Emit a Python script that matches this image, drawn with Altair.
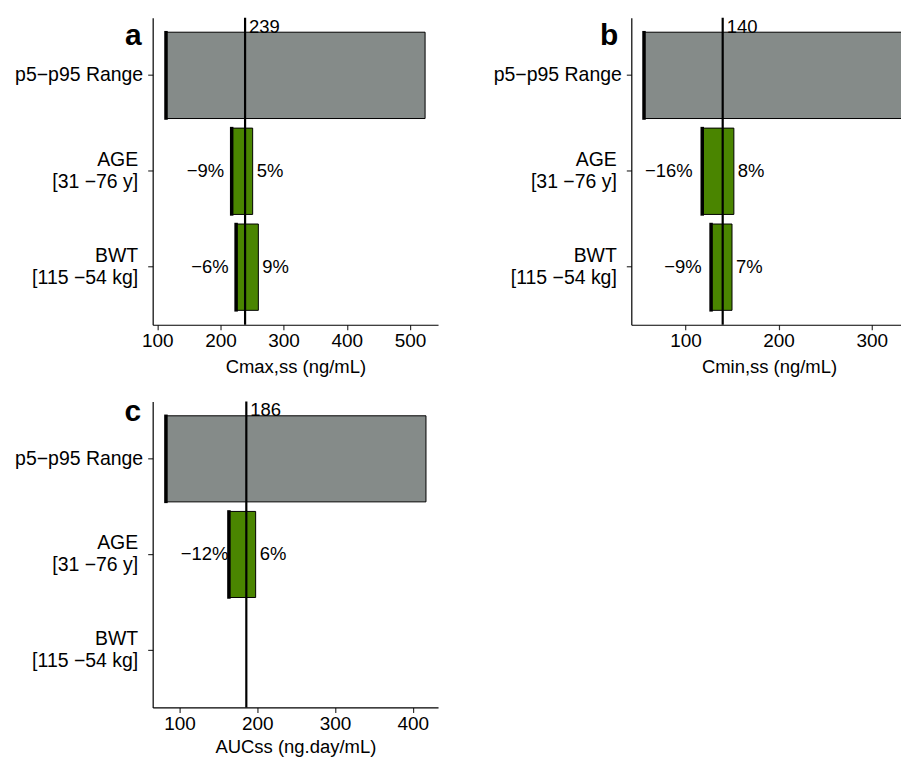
import altair as alt
import pandas as pd

FONT = "Liberation Sans"

categories = ["p5\u2212p95 Range", "AGE\n[31 \u221276 y]", "BWT\n[115 \u221254 kg]"]
kinds = ["range", "cov", "cov"]

# panel a : Cmax,ss
a_ref = 239
a_low = [113, 217, 224]
a_high = [524, 251, 260]
a_low_lbl = ["", "\u22129%", "\u22126%"]
a_high_lbl = ["", "5%", "9%"]
a_ticks = [100, 200, 300, 400, 500]

# panel b : Cmin,ss
b_ref = 140
b_low = [55, 117.5, 127]
b_high = [335, 152, 150]
b_low_lbl = ["", "\u221216%", "\u22129%"]
b_high_lbl = ["", "8%", "7%"]
b_ticks = [100, 200, 300]

# panel c : AUCss
c_ref = 186
c_low = [82, 163, None]
c_high = [417, 198, None]
c_low_lbl = ["", "\u221212%", ""]
c_high_lbl = ["", "6%", ""]
c_ticks = [100, 200, 300, 400]

MULTI = "indexof(datum.value, '\\n') >= 0"


def panel(letter, ref, lows, highs, llbl, hlbl, ticks, title, domain, width, height,
          ldx, letter_x, letter_y, tpad):
    df = pd.DataFrame({"cat": categories, "kind": kinds, "low": lows, "high": highs,
                       "llab": llbl, "hlab": hlbl})
    base = alt.Chart(df).transform_filter("isValid(datum.low)")
    xscale = alt.Scale(domain=domain, nice=False, zero=False)
    y = alt.Y("cat:N", scale=alt.Scale(domain=categories, paddingInner=0.1, paddingOuter=0.15),
              axis=alt.Axis(title=None, labelExpr="split(datum.label, '\\n')",
                            labelLineHeight=22, minExtent=145, maxExtent=145,
                            labelFontSize=19.5,
                            labelOffset={"condition": {"test": MULTI, "value": -11}, "value": 0},
                            labelPadding={"condition": {"test": MULTI, "value": 10}, "value": 5},
                            tickSize=5))
    bars = base.mark_bar(stroke="black", strokeWidth=1).encode(
        x=alt.X("low:Q", scale=xscale,
                axis=alt.Axis(title=title, values=ticks, labelFlush=False,
                              minExtent=26, maxExtent=26, titlePadding=tpad)),
        x2="high:Q",
        y=y,
        color=alt.Color("kind:N", scale=alt.Scale(domain=["range", "cov"],
                                                  range=["#858b89", "#4a8500"]), legend=None),
    )
    edges = base.mark_bar(stroke="black", strokeWidth=2.5, fill="black", xOffset=1).encode(
        x="low:Q", x2="low:Q", y=y)
    lt = base.mark_text(align="right", baseline="middle", dx=ldx, fontSize=18.5, font=FONT,
                        color="black").encode(x="low:Q", y=y, text="llab:N")
    ht = base.mark_text(align="left", baseline="middle", dx=4, fontSize=18.5, font=FONT,
                        color="black").encode(x="high:Q", y=y, text="hlab:N")
    rdf = pd.DataFrame({"ref": [ref]})
    rule = alt.Chart(rdf).mark_rule(color="black", strokeWidth=2.2).encode(x="ref:Q")
    rtext = alt.Chart(rdf).mark_text(align="left", baseline="top", dx=4, fontSize=18.5,
                                     font=FONT, color="black").encode(
        x="ref:Q", y=alt.value(0), text="ref:Q")
    let = alt.Chart(pd.DataFrame({"t": [letter]})).mark_text(
        align="right", baseline="alphabetic", fontSize=30, fontWeight="bold", font=FONT,
        color="black").encode(x=alt.value(letter_x), y=alt.value(letter_y), text="t:N")
    return alt.layer(bars, edges, rule, lt, ht, rtext, let).properties(width=width, height=height)


pa = panel("a", a_ref, a_low, a_high, a_low_lbl, a_high_lbl, a_ticks, "Cmax,ss (ng/mL)",
           [92.7, 544.5], 286, 307.6, -7, -11, 27, 7)
pb = panel("b", b_ref, b_low, b_high, b_low_lbl, b_high_lbl, b_ticks, "Cmin,ss (ng/mL)",
           [41.9, 337.5], 276, 307.6, -9, -13, 27, 7)
pc = panel("c", c_ref, c_low, c_high, c_low_lbl, c_high_lbl, c_ticks, "AUCss (ng.day/mL)",
           [65.6, 432.5], 286, 306.7, 0, -11.5, 20, 4)

chart = alt.vconcat(alt.hconcat(pa, pb, spacing=48.7), pc, spacing=20.5).properties(
    padding={"top": 7, "left": 0, "right": -8, "bottom": 0}
).configure_axis(
    labelFont=FONT, titleFont=FONT, labelFontSize=19, titleFontSize=18.5,
    labelColor="black", titleColor="black", domainColor="black", tickColor="#333333",
    domainWidth=1.2, tickWidth=1.2, grid=False, titleFontWeight="normal",
).configure_view(stroke=None)

chart.save("out.html", embed_options={"renderer": "svg", "actions": False})
